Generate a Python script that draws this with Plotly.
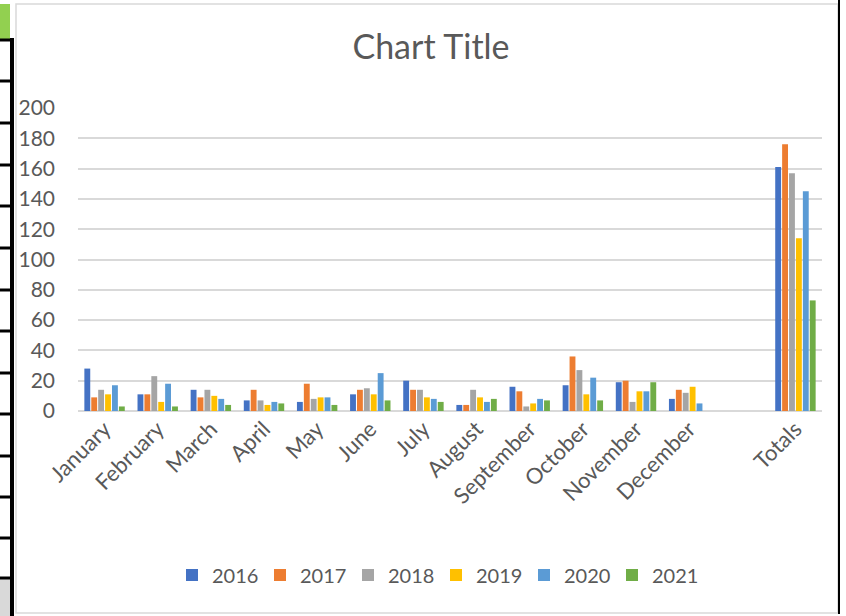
import plotly.graph_objects as go

months = ["January", "February", "March", "April", "May", "June", "July",
          "August", "September", "October", "November", "December"]
total_label = "Totals"
years = ["2016", "2017", "2018", "2019", "2020", "2021"]

v2016 = [28, 11, 14, 7, 6, 11, 20, 4, 16, 17, 19, 8]
v2017 = [9, 11, 9, 14, 18, 14, 14, 4, 13, 36, 20, 14]
v2018 = [14, 23, 14, 7, 8, 15, 14, 14, 3, 27, 6, 12]
v2019 = [11, 6, 10, 4, 9, 11, 9, 9, 5, 11, 13, 16]
v2020 = [17, 18, 8, 6, 9, 25, 8, 6, 8, 22, 13, 5]
v2021 = [3, 3, 4, 5, 4, 7, 6, 8, 7, 7, 19, 0]
totals = [161, 176, 157, 114, 145, 73]

colors = ["#4472C4", "#ED7D31", "#A5A5A5", "#FFC000", "#5B9BD5", "#70AD47"]
series = [v2016, v2017, v2018, v2019, v2020, v2021]

# category slots: 12 months, one empty slot, then Totals
slots = months + [""] + [total_label]
month_pos = list(range(len(months)))
total_pos = slots.index(total_label)

fig = go.Figure()
for name, vals, tot, col in zip(years, series, totals, colors):
    fig.add_trace(go.Bar(
        name=name,
        x=month_pos + [total_pos],
        y=vals + [tot],
        marker=dict(color=col, line=dict(width=0)),
    ))

W, H = 846, 616
L, R, T, B = 78, 24, 108, 205
PW, PH = W - L - R, H - T - B


def px(x):
    return (x - L) / PW


def py(y):
    return (H - B - y) / PH


shapes = []
# chart border
shapes.append(dict(type="rect", xref="paper", yref="paper",
                   x0=px(16), x1=px(838), y0=py(4), y1=py(613),
                   line=dict(color="#D9D9D9", width=1.5), layer="below"))
# right black edge
shapes.append(dict(type="line", xref="paper", yref="paper",
                   x0=px(839), x1=px(839), y0=py(0), y1=py(614),
                   line=dict(color="#000000", width=2)))
# left spreadsheet strip
shapes.append(dict(type="rect", xref="paper", yref="paper",
                   x0=px(0), x1=px(10), y0=py(4), y1=py(40),
                   fillcolor="#92D050", line=dict(width=0)))
shapes.append(dict(type="rect", xref="paper", yref="paper",
                   x0=px(0), x1=px(10), y0=py(579), y1=py(616),
                   fillcolor="#D9D9D9", line=dict(width=0)))
shapes.append(dict(type="rect", xref="paper", yref="paper",
                   x0=px(10), x1=px(14), y0=py(38), y1=py(616),
                   fillcolor="#000000", line=dict(width=0)))
for yy in [40, 81, 123, 165, 206, 248, 290, 331, 373, 414, 456, 497, 538, 578]:
    shapes.append(dict(type="rect", xref="paper", yref="paper",
                       x0=px(0), x1=px(11), y0=py(yy - 1.5), y1=py(yy + 1.5),
                       fillcolor="#000000", line=dict(width=0)))

font_main = "Lato, 'Open Sans', sans-serif"
fig.update_layout(
    width=W, height=H,
    margin=dict(l=L, r=R, t=T, b=B, autoexpand=False),
    paper_bgcolor="white", plot_bgcolor="white",
    font=dict(family=font_main, color="#595959", size=20),
    title=dict(text="Chart Title", x=(431) / W, xanchor="center",
               y=1 - 47 / H, yanchor="middle", yref="container",
               font=dict(size=34, color="#595959", family=font_main)),
    barmode="group", bargap=0.22, bargroupgap=0.15,
    showlegend=True,
    legend=dict(orientation="h", x=px(436), xanchor="center",
                y=py(575), yanchor="middle",
                font=dict(size=20, color="#595959"),
                itemwidth=30, entrywidth=43, entrywidthmode="pixels",
                tracegroupgap=0, traceorder="normal"),
    xaxis=dict(range=[-0.5, len(slots) - 0.5],
               tickmode="array", tickvals=list(range(len(slots))),
               ticktext=slots, tickangle=-45,
               showgrid=False, zeroline=False, showline=False,
               ticks="", tickfont=dict(size=22, color="#595959")),
    yaxis=dict(range=[0, 200], dtick=20, showgrid=True,
               gridcolor="#D9D9D9", gridwidth=1.5,
               zeroline=True, zerolinecolor="#D9D9D9", zerolinewidth=1.5,
               showline=False, ticks="", ticklabelstandoff=22,
               tickfont=dict(size=21, color="#595959")),
    shapes=shapes,
)

fig.write_html("out.html",
               config={"displayModeBar": False},
               post_script="document.body.style.margin='0';"
                           "document.body.style.overflow='hidden';")
